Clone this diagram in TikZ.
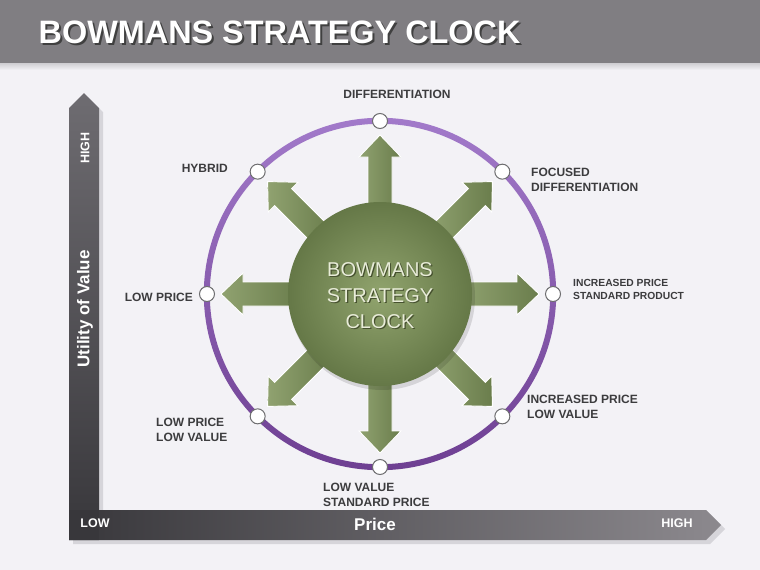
\documentclass[tikz,border=0pt]{standalone}
\usepackage{fontspec}
\setmainfont{Liberation Sans}
\usetikzlibrary{calc}
\definecolor{bgc}{HTML}{F3F2F6}
\definecolor{titlebar}{HTML}{807E82}
\definecolor{titleshadow}{HTML}{C9C8CC}
\definecolor{labelc}{HTML}{3C3C3E}
\definecolor{ringtop}{HTML}{A27ACA}
\definecolor{ringbot}{HTML}{6E3F92}
\definecolor{arrdark}{HTML}{6A7D4C}
\definecolor{arrlight}{HTML}{90A270}
\definecolor{hubin}{HTML}{91A46E}
\definecolor{hubout}{HTML}{657847}
\definecolor{hubtext}{HTML}{E8ECD8}
\definecolor{hubshadow}{HTML}{46512F}
\definecolor{axdark}{HTML}{38373B}
\definecolor{axlight}{HTML}{8C898E}
\definecolor{axmid}{HTML}{6E6C71}
\definecolor{axshadow}{HTML}{D6D5DA}
\definecolor{dotborder}{HTML}{6E6E70}
\tikzset{
  lbl/.style={text=labelc, font=\bfseries\fontsize{12}{15}\selectfont, inner sep=0pt, align=left},
  lblsmall/.style={text=labelc, font=\bfseries\fontsize{10.3}{13}\selectfont, inner sep=0pt, align=left},
  axlbl/.style={text=white, font=\bfseries\fontsize{12.5}{14}\selectfont, inner sep=0pt},
  axtitle/.style={text=white, font=\bfseries\fontsize{17}{19}\selectfont, inner sep=0pt},
  dot/.style={circle, draw=dotborder, line width=1pt, fill=white, minimum size=15pt, inner sep=0pt},
  hubtxt/.style={font=\fontsize{20}{26}\selectfont, align=center, inner sep=0pt},
  ttl/.style={font=\bfseries\fontsize{32.4}{36}\selectfont, inner sep=0pt, anchor=west}
}
\begin{document}
\begin{tikzpicture}[x=1pt,y=-1pt]
\useasboundingbox (0,0) rectangle (760,570);
\fill[bgc] (0,0) rectangle (760,570);
% title bar
\shade[top color=titleshadow, bottom color=bgc] (0,62) rectangle (760,70);
\fill[titlebar] (0,0) rectangle (760,63);
\node[ttl, text=black!75] (titles) at (40.5,34.5) {BOWMANS STRATEGY CLOCK};
\node[ttl, text=white] (title) at (38.5,32.5) {BOWMANS STRATEGY CLOCK};
% axes shadow
\fill[axshadow] (73,112) -- (88,97) -- (103,112) -- (103,514) -- (710,514) -- (725,529) -- (710,544) -- (73,544) -- cycle;
% vertical axis
\shade[bottom color=axdark, top color=axmid] (69,540) -- (69,108) -- (84,93) -- (99,108) -- (99,540) -- cycle;
% horizontal axis
\shade[left color=axdark, right color=axlight] (69,540) -- (69,510) -- (706,510) -- (721,525) -- (706,540) -- cycle;
\fill[axdark] (69,510) rectangle (99,540);
\node[axlbl, rotate=90] (yhigh) at (85,148) {HIGH};
\node[axtitle, rotate=90] (ytitle) at (85,309) {Utility of Value};
\node[axlbl] (xlow) at (95,523) {LOW};
\node[axtitle] (xtitle) at (375,524) {Price};
\node[axlbl] (xhigh) at (677,523) {HIGH};
% ring
\coordinate (c) at (380,294);
\shade[top color=ringtop, bottom color=ringbot, even odd rule] (c) circle (176.2) (c) circle (170.2);
% arrows
\foreach \a in {0,45,...,315}{
  \shade[shift={(380,294)}, rotate=\a, left color=arrlight, right color=arrdark, draw=white, line width=0.9pt]
    (80,-12) -- (137,-12) -- (137,-21) -- (159,0) -- (137,21) -- (137,12) -- (80,12) -- cycle;
}
% hub
\fill[black, opacity=0.12] (382,297) circle (93);
\shade[inner color=hubin, outer color=hubout] (380,294) circle (92);
\node[hubtxt, text=hubshadow] (hubs) at (381.2,296.7) {BOWMANS\\STRATEGY\\CLOCK};
\node[hubtxt, text=hubtext] (hub) at (380,295.5) {BOWMANS\\STRATEGY\\CLOCK};
% dots
\foreach \a/\n in {90/dN,135/dNW,45/dNE,180/dW,0/dE,225/dSW,315/dSE,270/dS}{
  \node[dot] (\n) at ($(c)+(\a:173)$) {};
}
% labels
\node[lbl, anchor=center] (lN) at (397,94) {DIFFERENTIATION};
\node[lbl, anchor=east] (lNW) at (228,168) {HYBRID};
\node[lbl, anchor=west] (lNE) at (531,179.5) {FOCUSED\\DIFFERENTIATION};
\node[lblsmall, anchor=west] (lE) at (573,289.5) {INCREASED PRICE\\STANDARD PRODUCT};
\node[lbl, anchor=east] (lW) at (193,297) {LOW PRICE};
\node[lbl, anchor=west] (lSE) at (527,407) {INCREASED PRICE\\LOW VALUE};
\node[lbl, anchor=west] (lSW) at (156,429.5) {LOW PRICE\\LOW VALUE};
\node[lbl, anchor=west] (lS) at (323,495) {LOW VALUE\\STANDARD PRICE};
\end{tikzpicture}
\end{document}
